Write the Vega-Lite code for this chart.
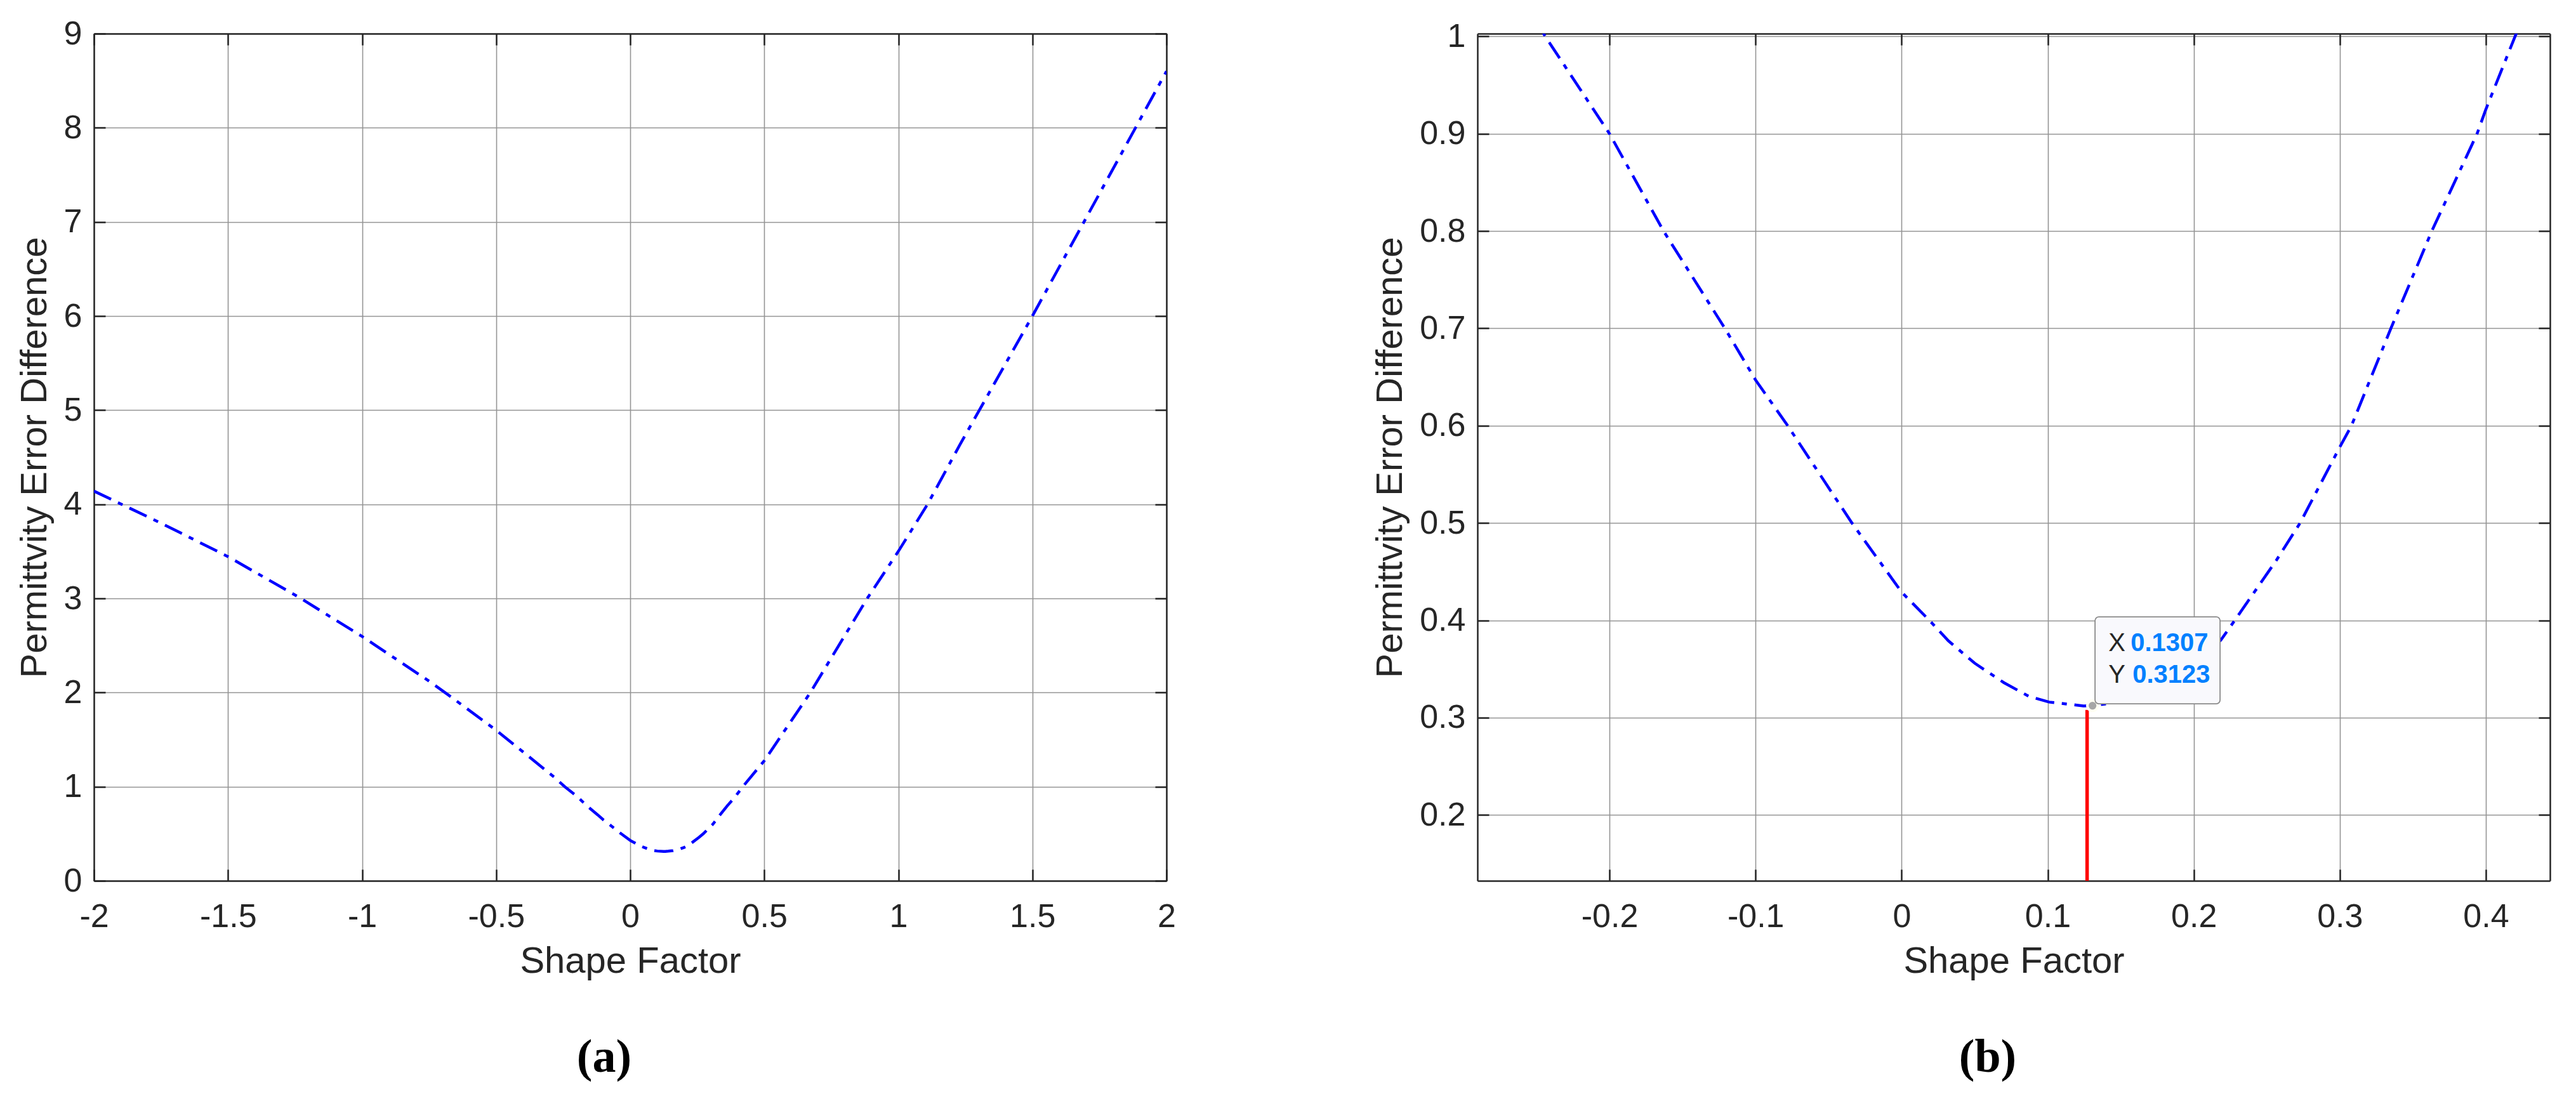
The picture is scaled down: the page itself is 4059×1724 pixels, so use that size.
{
  "$schema": "https://vega.github.io/schema/vega-lite/v6.json",
  "background": "white",
  "padding": {"left": 26, "top": 27, "right": 30, "bottom": 10},
  "config": {
    "view": {"stroke": null},
    "font": "Liberation Sans",
    "axis": {
      "domainColor": "#262626", "domainWidth": 2.5,
      "tickColor": "#262626", "tickWidth": 2.5, "tickSize": -18,
      "gridColor": "#949494", "gridWidth": 1.6, "gridOpacity": 1,
      "labelFont": "Liberation Sans", "labelFontSize": 52, "labelColor": "#262626",
      "titleFont": "Liberation Sans", "titleFontSize": 58, "titleFontWeight": "normal", "titleColor": "#262626"
    }
  },
  "datasets": {
    "curve": [
      {"x": -2.0, "y": 4.14}, {"x": -1.75, "y": 3.80}, {"x": -1.5, "y": 3.444}, {"x": -1.24, "y": 3.02},
      {"x": -1.0, "y": 2.596}, {"x": -0.75, "y": 2.121}, {"x": -0.68, "y": 1.978}, {"x": -0.5, "y": 1.60},
      {"x": -0.4, "y": 1.37}, {"x": -0.284, "y": 1.102}, {"x": -0.244, "y": 1.0}, {"x": -0.2, "y": 0.90},
      {"x": -0.163, "y": 0.80}, {"x": -0.121, "y": 0.70}, {"x": -0.1, "y": 0.647}, {"x": -0.078, "y": 0.60},
      {"x": -0.034, "y": 0.50}, {"x": 0.0, "y": 0.429}, {"x": 0.019, "y": 0.40}, {"x": 0.032, "y": 0.379},
      {"x": 0.05, "y": 0.356}, {"x": 0.07, "y": 0.336}, {"x": 0.087, "y": 0.322}, {"x": 0.101, "y": 0.316},
      {"x": 0.1245, "y": 0.3121}, {"x": 0.1307, "y": 0.3123}, {"x": 0.142, "y": 0.3145}, {"x": 0.16, "y": 0.320},
      {"x": 0.18, "y": 0.333}, {"x": 0.2, "y": 0.353}, {"x": 0.2187, "y": 0.380}, {"x": 0.2281, "y": 0.40},
      {"x": 0.2567, "y": 0.462}, {"x": 0.2728, "y": 0.50}, {"x": 0.3, "y": 0.578}, {"x": 0.308, "y": 0.60},
      {"x": 0.335, "y": 0.70}, {"x": 0.363, "y": 0.80}, {"x": 0.394, "y": 0.90}, {"x": 0.4, "y": 0.925},
      {"x": 0.42, "y": 1.0}, {"x": 0.5, "y": 1.275}, {"x": 0.672, "y": 2.0}, {"x": 0.884, "y": 3.0},
      {"x": 1.0, "y": 3.5}, {"x": 1.109, "y": 4.0}, {"x": 1.23, "y": 4.635}, {"x": 1.5, "y": 6.0},
      {"x": 1.75, "y": 7.3}, {"x": 2.0, "y": 8.6}
    ],
    "tip": [{"x": 0.1307, "y": 0.3123, "xlab": "X", "ylab": "Y", "xval": "0.1307", "yval": "0.3123"}],
    "marker": [{"x": 0.127, "ytop": 0.308, "ybot": 0}]
  },
  "spacing": 490,
  "bounds": "flush",
  "hconcat": [
    {
      "width": 1690, "height": 1335,
      "title": {"text": "(a)", "orient": "bottom", "anchor": "middle", "frame": "group", "dx": -41, "offset": 87,
                "font": "Liberation Serif", "fontSize": 74, "fontWeight": "bold", "color": "#000000"},
      "resolve": {"axis": {"x": "independent", "y": "independent"}},
      "layer": [
        {
          "data": {"name": "curve"},
          "mark": {"type": "line", "color": "#0000ff", "strokeWidth": 4.5, "strokeDash": [30, 12, 8, 12], "clip": true},
          "encoding": {
            "x": {"field": "x", "type": "quantitative", "scale": {"domain": [-2, 2], "nice": false, "zero": false},
                  "axis": {"orient": "bottom", "values": [-2, -1.5, -1, -0.5, 0, 0.5, 1, 1.5, 2], "labelExpr": "'' + datum.value",
                           "title": "Shape Factor", "grid": true, "labelPadding": 49, "titlePadding": 16, "labelFlush": false, "labelOverlap": false}},
            "y": {"field": "y", "type": "quantitative", "scale": {"domain": [0, 9], "nice": false, "zero": false},
                  "axis": {"orient": "left", "values": [0, 1, 2, 3, 4, 5, 6, 7, 8, 9], "labelExpr": "'' + datum.value",
                           "title": "Permittvity Error Difference", "grid": true, "labelPadding": 37, "titlePadding": 16, "labelFlush": false, "labelOverlap": false}}
          }
        },
        {
          "data": {"name": "curve"},
          "mark": {"type": "line", "opacity": 0, "clip": true},
          "encoding": {
            "x": {"field": "x", "type": "quantitative", "scale": {"domain": [-2, 2], "nice": false, "zero": false},
                  "axis": {"orient": "top", "values": [-2, -1.5, -1, -0.5, 0, 0.5, 1, 1.5, 2], "labels": false, "title": null, "grid": false}},
            "y": {"field": "y", "type": "quantitative", "scale": {"domain": [0, 9], "nice": false, "zero": false},
                  "axis": {"orient": "right", "values": [0, 1, 2, 3, 4, 5, 6, 7, 8, 9], "labels": false, "title": null, "grid": false}}
          }
        }
      ]
    },
    {
      "width": 1690, "height": 1335,
      "title": {"text": "(b)", "orient": "bottom", "anchor": "middle", "frame": "group", "dx": -41, "offset": 87,
                "font": "Liberation Serif", "fontSize": 74, "fontWeight": "bold", "color": "#000000"},
      "resolve": {"axis": {"x": "independent", "y": "independent"}},
      "layer": [
        {
          "data": {"name": "curve"},
          "mark": {"type": "line", "color": "#0000ff", "strokeWidth": 4.5, "strokeDash": [30, 12, 8, 12], "clip": true},
          "encoding": {
            "x": {"field": "x", "type": "quantitative", "scale": {"domain": [-0.2904, 0.4439], "nice": false, "zero": false},
                  "axis": {"orient": "bottom", "values": [-0.2, -0.1, 0, 0.1, 0.2, 0.3, 0.4], "labelExpr": "'' + datum.value",
                           "title": "Shape Factor", "grid": true, "labelPadding": 49, "titlePadding": 16, "labelFlush": false, "labelOverlap": false}},
            "y": {"field": "y", "type": "quantitative", "scale": {"domain": [0.1324, 1.0028], "nice": false, "zero": false},
                  "axis": {"orient": "left", "values": [0.2, 0.3, 0.4, 0.5, 0.6, 0.7, 0.8, 0.9, 1.0], "labelExpr": "'' + datum.value",
                           "title": "Permittvity Error Difference", "grid": true, "labelPadding": 37, "titlePadding": 16, "labelFlush": false, "labelOverlap": false}}
          }
        },
        {
          "data": {"name": "curve"},
          "mark": {"type": "line", "opacity": 0, "clip": true},
          "encoding": {
            "x": {"field": "x", "type": "quantitative", "scale": {"domain": [-0.2904, 0.4439], "nice": false, "zero": false},
                  "axis": {"orient": "top", "values": [-0.2, -0.1, 0, 0.1, 0.2, 0.3, 0.4], "labels": false, "title": null, "grid": false}},
            "y": {"field": "y", "type": "quantitative", "scale": {"domain": [0.1324, 1.0028], "nice": false, "zero": false},
                  "axis": {"orient": "right", "values": [0.2, 0.3, 0.4, 0.5, 0.6, 0.7, 0.8, 0.9, 1.0], "labels": false, "title": null, "grid": false}}
          }
        },
        {
          "data": {"name": "marker"},
          "mark": {"type": "rule", "color": "#ff0000", "strokeWidth": 5.5, "clip": true},
          "encoding": {
            "x": {"field": "x", "type": "quantitative", "scale": {"domain": [-0.2904, 0.4439], "nice": false, "zero": false}, "axis": null},
            "y": {"field": "ytop", "type": "quantitative", "scale": {"domain": [0.1324, 1.0028], "nice": false, "zero": false}, "axis": null},
            "y2": {"field": "ybot"}
          }
        },
        {
          "data": {"name": "tip"},
          "mark": {"type": "point", "filled": true, "size": 420, "color": "#fffff2", "opacity": 1},
          "encoding": {
            "x": {"field": "x", "type": "quantitative", "scale": {"domain": [-0.2904, 0.4439], "nice": false, "zero": false}, "axis": null},
            "y": {"field": "y", "type": "quantitative", "scale": {"domain": [0.1324, 1.0028], "nice": false, "zero": false}, "axis": null}
          }
        },
        {
          "data": {"name": "tip"},
          "mark": {"type": "point", "filled": true, "size": 150, "color": "#a6a6a6", "opacity": 1},
          "encoding": {
            "x": {"field": "x", "type": "quantitative", "scale": {"domain": [-0.2904, 0.4439], "nice": false, "zero": false}, "axis": null},
            "y": {"field": "y", "type": "quantitative", "scale": {"domain": [0.1324, 1.0028], "nice": false, "zero": false}, "axis": null}
          }
        },
        {
          "data": {"name": "tip"},
          "mark": {"type": "rect", "fill": "#f9f9fd", "stroke": "#8a8a8a", "strokeWidth": 1.8, "cornerRadius": 6,
                   "xOffset": 4, "x2Offset": 201, "yOffset": -140, "y2Offset": -3},
          "encoding": {
            "x": {"field": "x", "type": "quantitative", "scale": {"domain": [-0.2904, 0.4439], "nice": false, "zero": false}, "axis": null},
            "x2": {"field": "x"},
            "y": {"field": "y", "type": "quantitative", "scale": {"domain": [0.1324, 1.0028], "nice": false, "zero": false}, "axis": null},
            "y2": {"field": "y"}
          }
        },
        {
          "data": {"name": "tip"},
          "mark": {"type": "text", "align": "left", "baseline": "alphabetic", "dx": 25, "dy": -86, "fontSize": 40, "color": "#262626", "font": "Liberation Sans"},
          "encoding": {
            "x": {"field": "x", "type": "quantitative", "scale": {"domain": [-0.2904, 0.4439], "nice": false, "zero": false}, "axis": null},
            "y": {"field": "y", "type": "quantitative", "scale": {"domain": [0.1324, 1.0028], "nice": false, "zero": false}, "axis": null},
            "text": {"field": "xlab"}
          }
        },
        {
          "data": {"name": "tip"},
          "mark": {"type": "text", "align": "left", "baseline": "alphabetic", "dx": 60, "dy": -86, "fontSize": 40, "fontWeight": "bold", "color": "#0080ff", "font": "Liberation Sans"},
          "encoding": {
            "x": {"field": "x", "type": "quantitative", "scale": {"domain": [-0.2904, 0.4439], "nice": false, "zero": false}, "axis": null},
            "y": {"field": "y", "type": "quantitative", "scale": {"domain": [0.1324, 1.0028], "nice": false, "zero": false}, "axis": null},
            "text": {"field": "xval"}
          }
        },
        {
          "data": {"name": "tip"},
          "mark": {"type": "text", "align": "left", "baseline": "alphabetic", "dx": 25, "dy": -36, "fontSize": 40, "color": "#262626", "font": "Liberation Sans"},
          "encoding": {
            "x": {"field": "x", "type": "quantitative", "scale": {"domain": [-0.2904, 0.4439], "nice": false, "zero": false}, "axis": null},
            "y": {"field": "y", "type": "quantitative", "scale": {"domain": [0.1324, 1.0028], "nice": false, "zero": false}, "axis": null},
            "text": {"field": "ylab"}
          }
        },
        {
          "data": {"name": "tip"},
          "mark": {"type": "text", "align": "left", "baseline": "alphabetic", "dx": 63, "dy": -36, "fontSize": 40, "fontWeight": "bold", "color": "#0080ff", "font": "Liberation Sans"},
          "encoding": {
            "x": {"field": "x", "type": "quantitative", "scale": {"domain": [-0.2904, 0.4439], "nice": false, "zero": false}, "axis": null},
            "y": {"field": "y", "type": "quantitative", "scale": {"domain": [0.1324, 1.0028], "nice": false, "zero": false}, "axis": null},
            "text": {"field": "yval"}
          }
        }
      ]
    }
  ]
}
